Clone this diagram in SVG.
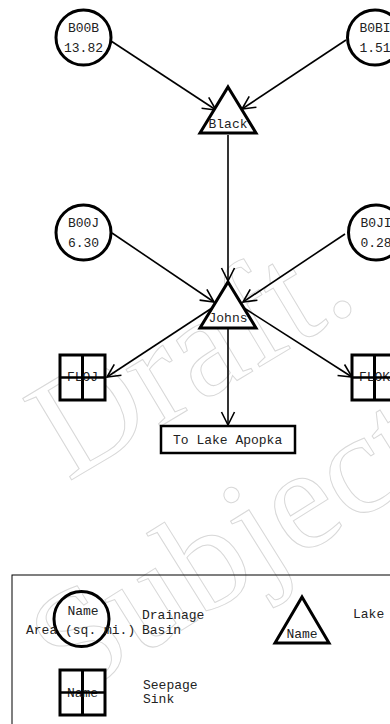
<svg xmlns="http://www.w3.org/2000/svg" width="390" height="724" viewBox="0 0 390 724">
<style>
.n{fill:#fff;stroke:#000;stroke-width:3}
.t{font-family:"Liberation Mono","Courier New",monospace;font-size:13px;fill:#222}
.m{text-anchor:middle}
.c{stroke:#000;stroke-width:1.6;fill:none;marker-end:url(#ah)}
.wm{font-family:"Liberation Serif","Times New Roman",serif;font-size:145px;fill:none;stroke:#d8d8d8;stroke-width:1}
</style>
<defs>
<marker id="ah" markerWidth="16" markerHeight="16" refX="14" refY="8" orient="auto" markerUnits="userSpaceOnUse">
<path d="M1,1.5 L14,8 L1,14.5" fill="none" stroke="#000" stroke-width="1.6"/>
</marker>
</defs>
<rect width="390" height="724" fill="#fff"/>
<g id="watermark">
<text class="wm" transform="translate(68,482) rotate(-31)">Draft.</text>
<text class="wm" transform="translate(70,700) rotate(-32)">Subject</text>
</g>
<g id="connectors">
<line class="c" x1="111" y1="41" x2="216" y2="110"/>
<line class="c" x1="346" y1="40" x2="242" y2="109"/>
<line class="c" x1="228" y1="135" x2="228" y2="281"/>
<line class="c" x1="112" y1="233" x2="214" y2="302"/>
<line class="c" x1="345" y1="234" x2="243" y2="302"/>
<line class="c" x1="212" y1="308" x2="107" y2="377"/>
<line class="c" x1="244" y1="308" x2="352" y2="377"/>
<line class="c" x1="228" y1="329" x2="228" y2="425"/>
</g>
<g id="B00B">
<circle class="n" cx="83.5" cy="37.5" r="27.5"/>
<text class="t m" x="83.5" y="32">B00B</text>
<text class="t m" x="83.5" y="52">13.82</text>
</g>
<g id="B0BI">
<circle class="n" cx="375" cy="37.5" r="27.5"/>
<text class="t m" x="375" y="32">B0BI</text>
<text class="t m" x="375" y="52">1.51</text>
</g>
<g id="Black">
<polygon class="n" points="228,87 256,133 200,133"/>
<text class="t m" x="228" y="128">Black</text>
</g>
<g id="B00J">
<circle class="n" cx="83.5" cy="232.5" r="27.5"/>
<text class="t m" x="83.5" y="227">B00J</text>
<text class="t m" x="83.5" y="247">6.30</text>
</g>
<g id="B0JI">
<circle class="n" cx="376" cy="232.5" r="27.5"/>
<text class="t m" x="376" y="227">B0JI</text>
<text class="t m" x="376" y="247">0.28</text>
</g>
<g id="Johns">
<polygon class="n" points="228,282 256,328 200,328"/>
<text class="t m" x="228" y="322">Johns</text>
</g>
<g id="FLOJ">
<rect class="n" x="60" y="355" width="45" height="45"/>
<line x1="82.5" y1="355" x2="82.5" y2="400" stroke="#000" stroke-width="3"/>
<text class="t m" x="82.5" y="381">FLOJ</text>
<line x1="60" y1="377.5" x2="105" y2="377.5" stroke="#000" stroke-width="2.5"/>
</g>
<g id="FLOK">
<rect class="n" x="352" y="355" width="45" height="45"/>
<line x1="374.5" y1="355" x2="374.5" y2="400" stroke="#000" stroke-width="3"/>
<text class="t m" x="374.5" y="381">FLOK</text>
<line x1="352" y1="377.5" x2="397" y2="377.5" stroke="#000" stroke-width="2.5"/>
</g>
<g id="ToLakeApopka">
<rect x="161" y="426" width="134" height="27" fill="#fff" stroke="#000" stroke-width="2.5"/>
<text class="t" x="173" y="444">To Lake Apopka</text>
</g>
<g id="legend">
<rect x="12" y="575" width="390" height="160" fill="none" stroke="#000" stroke-width="1"/>
<circle cx="81.5" cy="619" r="27.5" fill="none" stroke="#000" stroke-width="3"/>
<text class="t m" x="83" y="615">Name</text>
<text class="t" x="26" y="634">Area (sq. mi.)</text>
<text class="t" x="142" y="619">Drainage</text>
<text class="t" x="142" y="634">Basin</text>
<polygon points="302,597 329,643 275,643" fill="#fff" stroke="#000" stroke-width="3"/>
<text class="t m" x="302" y="638">Name</text>
<text class="t" x="353" y="618">Lake</text>
<rect x="60" y="670" width="45" height="45" fill="#fff" stroke="#000" stroke-width="3"/>
<line x1="82.5" y1="670" x2="82.5" y2="715" stroke="#000" stroke-width="3"/>
<text class="t m" x="82.5" y="697">Name</text>
<line x1="60" y1="692.5" x2="105" y2="692.5" stroke="#000" stroke-width="2.5"/>
<text class="t" x="143" y="689">Seepage</text>
<text class="t" x="143" y="703">Sink</text>
</g>
</svg>
